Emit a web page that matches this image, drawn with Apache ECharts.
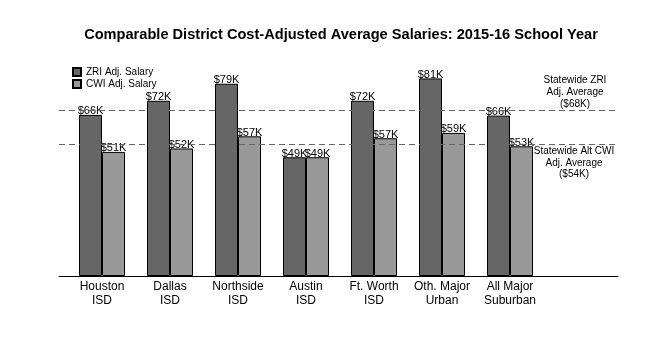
<!DOCTYPE html>
<html>
<head>
<meta charset="utf-8">
<script src="https://cdn.jsdelivr.net/npm/echarts@6/dist/echarts.min.js"></script>
<style>
    body { margin: 0; background: #fff; }
    #main { width: 650px; height: 350px; }
</style>
</head>
<body>
<div id="main"></div>
<script>
const districts = ['Houston\nISD', 'Dallas\nISD', 'Northside\nISD', 'Austin\nISD', 'Ft. Worth\nISD', 'Oth. Major\nUrban', 'All Major\nSuburban'];
const zriSalary = [66.2, 72.0, 79.0, 48.8, 72.0, 81.2, 65.9];
const cwiSalary = [51.0, 52.4, 57.4, 48.8, 56.6, 58.8, 53.3];
const statewideZri = 68;
const statewideCwi = 54;

const chartDom = document.getElementById('main');
const myChart = echarts.init(chartDom);
const font = 'Liberation Sans, Arial, sans-serif';

// bar value labels like "$66K"
const barLabel = {
    show: true,
    position: 'top',
    distance: -2,
    color: '#000',
    fontSize: 11,
    fontFamily: font,
    formatter: p => '$' + Math.round(p.value) + 'K'
};

const option = {
    animation: false,
    title: {
        text: 'Comparable District Cost-Adjusted Average Salaries: 2015-16 School Year',
        left: 336,
        textAlign: 'center',
        top: 22,
        textStyle: { fontSize: 14.6, fontWeight: 'bold', color: '#000', fontFamily: font }
    },
    legend: {
        orient: 'vertical',
        left: 67,
        top: 62,
        itemWidth: 8,
        itemHeight: 8,
        itemGap: 2,
        icon: 'rect',
        textStyle: { fontSize: 10, color: '#000', fontFamily: font },
        data: ['ZRI Adj. Salary', 'CWI Adj. Salary']
    },
    grid: [
        { left: 68, right: 38, top: 57, bottom: 74 },
        { left: 59, right: 32, top: 57, bottom: 74 }
    ],
    xAxis: [
        {
            type: 'category',
            gridIndex: 0,
            data: [...districts, ''],
            axisLine: { show: false },
            axisTick: { show: false },
            axisLabel: {
                interval: 0,
                margin: 4,
                color: '#000',
                fontSize: 12,
                lineHeight: 14,
                fontFamily: font
            }
        },
        {
            type: 'value',
            gridIndex: 1,
            min: 0,
            max: 1,
            axisLine: { show: true, lineStyle: { color: '#000', width: 1 } },
            axisTick: { show: false },
            axisLabel: { show: false },
            splitLine: { show: false }
        }
    ],
    yAxis: [
        { type: 'value', gridIndex: 0, min: 0, max: 90, show: false, splitLine: { show: false } },
        { type: 'value', gridIndex: 1, min: 0, max: 90, show: false, splitLine: { show: false } }
    ],
    series: [
        {
            name: 'ZRI Adj. Salary',
            type: 'bar',
            barWidth: 23,
            barGap: '0%',
            data: zriSalary,
            itemStyle: { color: '#666666', borderColor: '#000', borderWidth: 1 },
            label: barLabel
        },
        {
            name: 'CWI Adj. Salary',
            type: 'bar',
            barWidth: 23,
            barGap: '0%',
            data: cwiSalary,
            itemStyle: { color: '#999999', borderColor: '#000', borderWidth: 1 },
            label: barLabel
        },
        {
            name: 'statewide',
            type: 'line',
            xAxisIndex: 1,
            yAxisIndex: 1,
            data: [],
            markLine: {
                silent: true,
                symbol: ['none', 'none'],
                lineStyle: { type: [6, 4], color: '#666', width: 1 },
                data: [
                    {
                        yAxis: statewideZri,
                        label: {
                            position: 'insideEndTop',
                            align: 'center',
                            offset: [-43, 0],
                            distance: 0,
                            lineHeight: 12,
                            fontSize: 10,
                            color: '#000',
                            fontFamily: font,
                            formatter: 'Statewide ZRI\nAdj. Average\n($' + statewideZri + 'K)'
                        }
                    },
                    {
                        yAxis: statewideCwi,
                        label: {
                            position: 'insideEndBottom',
                            align: 'center',
                            offset: [-43, 0],
                            distance: 1,
                            lineHeight: 11.5,
                            fontSize: 10,
                            color: '#000',
                            backgroundColor: '#fff',
                            fontFamily: font,
                            formatter: 'Statewide Alt CWI\nAdj. Average\n($' + statewideCwi + 'K)'
                        }
                    }
                ]
            }
        }
    ]
};

option && myChart.setOption(option);
</script>
</body>
</html>
